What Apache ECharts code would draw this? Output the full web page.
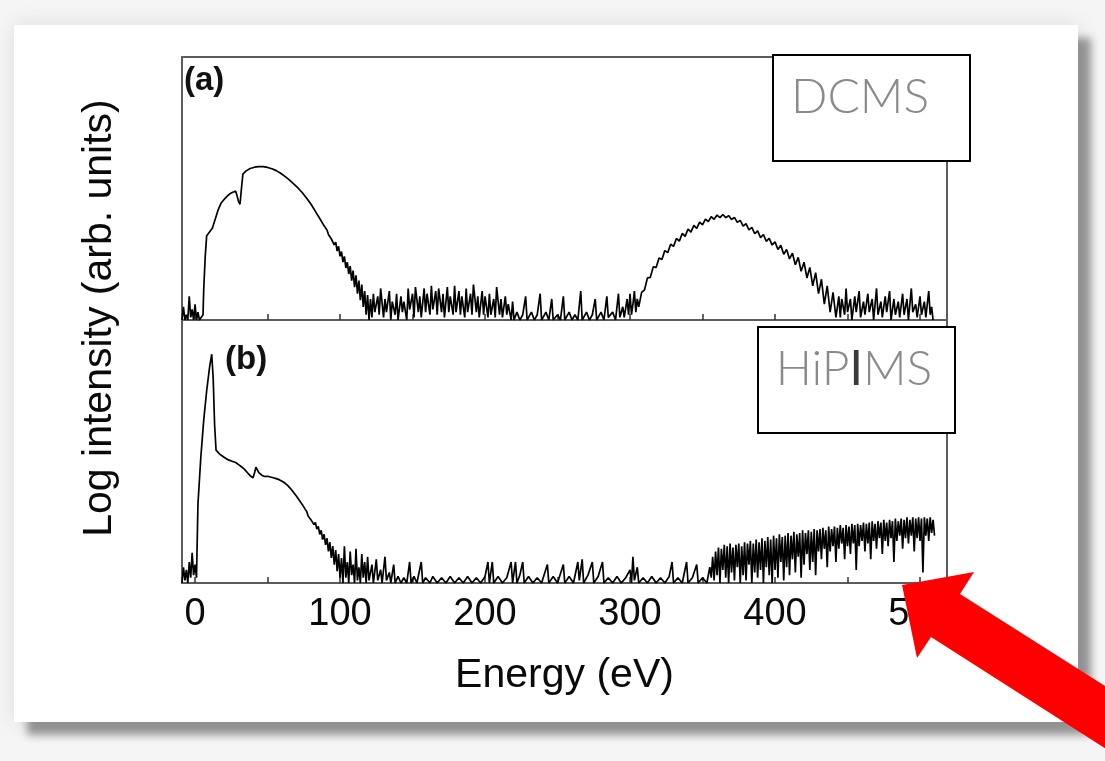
<!DOCTYPE html>
<html>
<head>
<meta charset="utf-8">
<title>Ion energy distributions: DCMS vs HiPIMS</title>
<script src="https://cdn.jsdelivr.net/npm/echarts@6.0.0/dist/echarts.min.js"></script>
<style>
  html, body { margin: 0; padding: 0; background: #f5f5f5; }
  #chart { width: 1105px; height: 761px; }
</style>
</head>
<body>
<div id="chart"></div>
<script>
// Energy axis ticks (eV)
const energyTickValues = [0, 50, 100, 150, 200, 250, 300, 350, 400, 450, 500];
const energyLabelValues = [0, 100, 200, 300, 400, 500];

// (a) DCMS spectrum: [energy (eV), log intensity (arb. units)]
const dcmsSpectrum = [
  [-9,0],[-8,0.5],[-7,0],[-6,0.2],[-5,0],[-4,0.9],[-3,0.1],[-2,0.4],[-1,0],[0,0.6],[1,0],[2,0.3],[3,0],[4,0],[5.5,0.2],
  [6,1.2],[7,2.4],[8,3.2],[10,3.35],[12,3.5],[14,3.85],[16,4.2],[18,4.45],[20,4.58],[22,4.7],[24,4.8],[26,4.86],[28,4.9],
  [29,4.72],[30,4.5],[31,4.4],[32,5.0],[33,5.55],[35,5.66],[38,5.76],[41,5.81],[44,5.83],[47,5.83],[50,5.8],[53,5.75],
  [56,5.68],[59,5.58],[62,5.46],[65,5.33],[68,5.18],[71,5.02],[74,4.84],[77,4.63],[80,4.4],[83,4.13],[86,3.86],[89,3.58],
  [91,3.42],[92,3.25],[93,3.3],[94,3.08],[95,3.12],[96,2.86],[97,2.96],[98,2.62],[99,2.8],[100,2.42],[101,2.6],[102,2.2],
  [103,2.42],[104,1.98],[105,2.2],[106,1.75],[107,2.05],[108,1.5],[109,1.88],[110,1.25],[111,1.7],[112,1.0],[113,1.5],
  [114,0.75],[115,1.35],[116,0.5],[117,1.1],[118,0.2],[119,0.95],[120,0],
  [121,0.8],[122,0.1],[123,1.0],[124,0.3],[126,0.9],[127,0.2],[128,1.2],[130,0.1],[131,0.8],[132,0.3],[134,1.1],[135,0],
  [136,0.7],[138,0.2],[139,1.0],[140,0],[142,0.9],[143,0.3],[144,0.7],[146,0],[147,1.2],[148,0.4],[150,1.0],[151,0.1],
  [152,1.25],[154,0.3],[155,0.9],[156,0.1],[158,1.2],[159,0.3],[160,1.0],[162,0.2],[163,1.3],[164,0.4],[166,1.1],[167,0.2],
  [168,1.2],[170,0.3],[171,1.0],[172,0.1],[174,1.25],[175,0.3],[176,0.9],[178,0.2],[179,1.3],[180,0.3],[182,1.1],[183,0.2],
  [184,0.9],[186,0.1],[187,1.2],[188,0.3],[190,1.0],[191,0.2],[192,1.35],[194,0.3],[195,0.9],[196,0.1],[198,1.1],[199,0.2],
  [200,0.9],[202,0.1],[203,1.0],[204,0.2],[206,0.8],[207,0.1],[208,1.25],[210,0.2],[211,0.8],[212,0.1],[214,0.9],[215,0.2],
  [216,0.6],[218,0],[219,0.7],[220,0],
  [222,0.3],[224,0],[226,0.2],[228,0.9],[229,0],[232,0.3],[234,0],[236,0.2],[238,1.0],[239,0],[242,0.3],[244,0],[246,0.8],
  [247,0],[250,0.2],[252,0],[254,0.9],[255,0],[258,0.3],[260,0],[262,0.2],[264,0],[266,1.1],[267,0],[270,0.3],[272,0],
  [274,0.2],[276,0.8],[277,0],[280,0.3],[282,0],[284,0.9],[285,0.1],[288,0.3],[290,0],[292,1.0],[293,0.1],[295,0.5],
  [296,0.1],[298,0.8],[299,0.2],[300,1.0],[301,0.2],[302,0.6],[303,1.1],[304,0.3],[305,0.8],
  [306,0.5],[308,1.05],[310,1.15],[312,1.6],[314,1.62],[316,2.02],[318,2.0],[320,2.36],[322,2.3],[324,2.64],[326,2.56],
  [328,2.88],[330,2.8],[332,3.1],[334,3.0],[336,3.29],[338,3.18],[340,3.46],[342,3.34],[344,3.6],[346,3.48],[348,3.72],
  [350,3.62],[352,3.84],[354,3.74],[356,3.93],[358,3.83],[360,3.99],[362,3.89],[364,4.01],[366,3.89],[368,3.97],[370,3.82],
  [372,3.9],[374,3.71],[376,3.79],[378,3.57],[380,3.66],[382,3.43],[384,3.52],[386,3.28],[388,3.39],[390,3.13],[392,3.25],
  [394,2.99],[396,3.11],[398,2.85],[400,2.97],[402,2.68],[404,2.84],[406,2.5],[408,2.68],[410,2.32],[412,2.54],[414,2.1],
  [416,2.38],[418,1.85],[420,2.2],[422,1.6],[424,2.0],[426,1.3],[428,1.8],[430,1.0],[432,1.55],[434,0.6],[436,1.3],
  [438,0.3],[440,1.05],[442,0.1],
  [444,0.9],[445,0.1],[446,0.8],[448,0.2],[449,1.2],[450,0.3],[452,0.8],[453,0],[455,0.9],[456,0.3],[458,1.1],[459,0.1],
  [461,0.7],[462,0.2],[464,1.0],[465,0.3],[467,0.8],[468,0],[470,1.2],[471,0.2],[473,0.7],[474,0.1],[476,0.9],[477,0.3],
  [479,1.1],[480,0],[482,0.8],[483,0.2],[485,0.7],[486,0.1],[488,1.0],[489,0.2],[491,0.8],[492,0],[494,1.2],[495,0.3],
  [497,0.6],[498,0.1],[500,0.9],[501,0.2],[503,0.7],[504,0.1],[506,1.1],[507,0.2],[508,0.5],[509,0]
];

// (b) HiPIMS spectrum: [energy (eV), log intensity (arb. units)]
const hipimsSpectrum = [
  [-9,0],[-8,0.6],[-7,0.1],[-6,0.5],[-5,0],[-4,0.8],[-3,0.2],[-2,1.15],[-1,0.3],[0,0.7],[1,0.2],
  [2,3.0],[4,4.8],[6,6.2],[8,7.3],[10,8.2],[11.5,8.7],[12.5,7.8],[13.5,6.0],[14.5,5.05],[17,4.9],[20,4.78],[23,4.68],
  [26,4.62],[28,4.58],[30,4.5],[32,4.42],[34,4.33],[36,4.2],[38,4.08],[40,4.0],[41,4.18],[42,4.4],[43,4.38],[44,4.2],
  [46,4.1],[48,4.05],[50,4.06],[52,4.03],[54,4.0],[56,3.97],[58,3.93],[60,3.87],[62,3.8],[64,3.7],[66,3.58],[68,3.44],
  [70,3.3],[72,3.14],[74,2.98],[76,2.8],[77,2.72],[78,2.55],[79,2.6],[80,2.4],[81,2.45],[82,2.22],[83,2.3],[84,2.05],
  [85,2.15],[86,1.85],[87,2.0],[88,1.65],[89,1.85],[90,1.45],[91,1.7],[92,1.2],[93,1.55],[94,0.95],[95,1.4],[96,0.7],
  [97,1.25],[98,0.45],[99,1.1],[100,0.2],[101,0.95],[102,0],[103,1.4],[104,0.2],[105,0.8],[106,0],[107,1.2],[108,0.3],
  [109,0.7],[110,0],[111,1.3],[112,0.1],[113,0.6],[114,0],[115,1.1],[116,0.2],[117,0.8],[118,0],[119,1.0],[120,0.1],
  [122,0.7],[123,0],[125,0.9],[126,0.1],[128,0.5],[129,0],[131,1.0],[132,0.1],[134,0.4],[135,0],[137,0.7],[138,0],
  [140,0.25],[142,0],[144,0.2],[146,0],[148,0.8],[149,0],[151,0.25],[153,0],[156,0.8],[157,0],[159,0.2],[162,0],
  [164,0.25],[167,0],[170,0.2],[173,0],[176,0.25],[179,0],[182,0.2],[185,0],[188,0.25],[191,0],[194,0.2],[197,0],
  [200,0.25],[202,0.8],[203,0],[205,0.8],[206,0],[209,0.25],[212,0],[215,0.2],[218,0.8],[219,0],[221,0.8],[222,0],
  [224,0.3],[226,0.8],[227,0],[230,0.25],[233,0],[236,0.2],[239,0],[243,0.7],[244,0],[247,0.25],[250,0],[254,0.7],
  [255,0],[258,0.25],[261,0],[264,0.8],[265,0.1],[267,0.9],[268,0],[271,0.3],[274,0.8],[275,0],[278,0.25],[281,0.8],
  [282,0],[285,0.2],[288,0],[291,0.25],[294,0],[297,0.2],[300,0.5],[301,0],[302,1.0],[303,0.1],[305,0.6],[306,0],
  [309,0.2],[312,0],[315,0.25],[318,0],[321,0.2],[324,0],[327,0.25],[329,0.8],[330,0],[333,0.2],[336,0],[339,0.8],
  [340,0],[343,0.2],[346,0.7],[347,0],[350,0.2],[353,0],[355,0.6],
  [356,0.2],[357,1.0],[358,0.1],[359,1.2],[360,0.3],[361,1.35],[362,0],[363,1.3],[364,0.5],[365,1.45],[366,0.2],
  [367,1.4],[368,0],[369,1.5],[370,0.4],[371,1.35],[372,0.1],[373,1.45],[374,0.6],[375,1.5],[376,0],[377,1.4],
  [378,0.3],[379,1.55],[380,0.1],[381,1.5],[382,0.7],[383,1.6],[384,0],[385,1.5],[386,0.4],[387,1.65],[388,0.2],
  [389,1.55],[390,0.5],[391,1.7],[392,0],[393,1.6],[394,0.6],[395,1.75],[396,0.3],[397,1.65],[398,0],[399,1.8],
  [400,0.5],[401,1.7],[402,0.2],[403,1.85],[404,0.8],[405,1.75],[406,0.1],[407,1.8],[408,0.6],[409,1.9],[410,0.3],
  [411,1.8],[412,0.9],[413,1.95],[414,0.4],[415,1.85],[416,1.0],[417,1.9],[418,0.2],[419,2.0],[420,0.7],[421,1.9],
  [422,1.1],[423,2.0],[424,0.5],[425,1.95],[426,0.8],[427,2.05],[428,0.3],[429,2.0],[430,1.2],[431,2.05],[432,0.9],
  [433,2.1],[434,1.3],[435,2.0],[436,0.6],[437,2.15],[438,1.2],[439,2.05],[440,1.4],[441,2.15],[442,0.8],[443,2.1],
  [444,1.3],[445,2.2],[446,1.5],[447,2.1],[448,0.9],[449,2.2],[450,1.4],[451,2.15],[452,1.1],[453,2.25],[454,1.5],
  [455,2.2],[456,0.5],[457,2.25],[458,1.4],[459,2.2],[460,1.6],[461,2.3],[462,1.2],[463,2.25],[464,1.5],[465,2.3],
  [466,0.9],[467,2.35],[468,1.6],[469,2.25],[470,1.3],[471,2.35],[472,1.7],[473,2.3],[474,1.1],[475,2.4],[476,1.6],
  [477,2.3],[478,1.4],[479,2.4],[480,1.7],[481,2.35],[482,0.8],[483,2.45],[484,1.6],[485,2.35],[486,1.8],[487,2.45],
  [488,1.3],[489,2.4],[490,1.7],[491,2.5],[492,1.5],[493,2.4],[494,1.8],[495,2.5],[496,1.2],[497,2.45],[498,1.7],
  [499,2.5],[500,1.6],[501,2.45],[502,0.4],[503,2.5],[504,1.8],[505,2.45],[506,1.6],[507,2.5],[508,1.9],[509,2.4],[510,1.8]
];

const panelTags = ['(a)', '(b)'];
const methodNames = ['DCMS', 'HiPIMS'];

const FONT = '"Liberation Sans", Arial, Helvetica, sans-serif';
const LIGHT_FONT = '300 48px Lato, "Open Sans", sans-serif';
const chart = echarts.init(document.getElementById('chart'), null, { renderer: 'canvas' });

function energyAxis(gridIndex, withLabels) {
  return {
    type: 'value', gridIndex: gridIndex, min: -9, max: 518.6,
    axisLine: { show: false },
    splitLine: { show: false },
    axisTick: {
      show: true, inside: true, length: 6, customValues: energyTickValues,
      lineStyle: { color: '#333', width: 1.5 }
    },
    axisLabel: withLabels ? {
      show: true, customValues: energyLabelValues, margin: 13,
      fontFamily: FONT, fontSize: 38, color: '#0a0a0a'
    } : { show: false },
    name: withLabels ? 'Energy (eV)' : '',
    nameLocation: 'middle', nameGap: 72,
    nameTextStyle: { fontFamily: FONT, fontSize: 41, color: '#0a0a0a' }
  };
}

function intensityAxis(gridIndex) {
  return { type: 'value', gridIndex: gridIndex, min: 0, max: 10, show: false };
}

const gridFrame = { show: true, borderColor: '#5c5c5c', borderWidth: 2, backgroundColor: 'transparent' };

const spectrumLine = { color: '#000', width: 1.7 };

const option = {
  backgroundColor: '#f5f5f5',
  animation: false,
  grid: [
    Object.assign({ left: 182, top: 57, width: 765, height: 263 }, gridFrame),
    Object.assign({ left: 182, top: 320, width: 765, height: 263 }, gridFrame)
  ],
  xAxis: [energyAxis(0, false), energyAxis(1, true)],
  yAxis: [intensityAxis(0), intensityAxis(1)],
  series: [
    {
      name: methodNames[0], type: 'line', xAxisIndex: 0, yAxisIndex: 0,
      data: dcmsSpectrum, showSymbol: false, symbol: 'none',
      lineStyle: spectrumLine, z: 5
    },
    {
      name: methodNames[1], type: 'line', xAxisIndex: 1, yAxisIndex: 1,
      data: hipimsSpectrum, showSymbol: false, symbol: 'none',
      lineStyle: spectrumLine, z: 5
    }
  ],
  graphic: [
    // card with soft drop shadow
    {
      type: 'rect', z: -20, silent: true,
      shape: { x: 14, y: 25, width: 1064, height: 697 },
      style: { fill: '#fff', shadowBlur: 22, shadowOffsetX: 0, shadowOffsetY: 0, shadowColor: 'rgba(0,0,0,0.10)' }
    },
    {
      type: 'rect', z: -19, silent: true,
      shape: { x: 14, y: 25, width: 1064, height: 697 },
      style: { fill: '#fff', shadowBlur: 8, shadowOffsetX: 13, shadowOffsetY: 13, shadowColor: 'rgba(0,0,0,0.38)' }
    },
    // y-axis title spanning both panels
    {
      type: 'text', x: 100, y: 318, rotation: Math.PI / 2, z: 10, silent: true,
      style: {
        text: 'Log intensity (arb. units)', fill: '#0a0a0a',
        font: '41px ' + FONT, align: 'center', verticalAlign: 'middle'
      }
    },
    // panel tags
    {
      type: 'text', x: 184, y: 64, z: 10, silent: true,
      style: { text: panelTags[0], fill: '#111', font: 'bold 33px ' + FONT, align: 'left', verticalAlign: 'top' }
    },
    {
      type: 'text', x: 225, y: 343, z: 10, silent: true,
      style: { text: panelTags[1], fill: '#111', font: 'bold 33px ' + FONT, align: 'left', verticalAlign: 'top' }
    },
    // method boxes
    {
      type: 'rect', z: 50, silent: true,
      shape: { x: 773, y: 55, width: 197, height: 106 },
      style: { fill: '#fff', stroke: '#000', lineWidth: 2 }
    },
    {
      type: 'text', x: 860, y: 98, z: 51, silent: true,
      style: { text: methodNames[0], fill: '#8a8a8a', font: LIGHT_FONT, align: 'center', verticalAlign: 'middle' }
    },
    {
      type: 'rect', z: 50, silent: true,
      shape: { x: 758, y: 327, width: 197, height: 106 },
      style: { fill: '#fff', stroke: '#000', lineWidth: 2 }
    },
    {
      type: 'text', x: 854, y: 370, z: 51, silent: true,
      style: {
        text: 'HiP{dark|I}MS', fill: '#8a8a8a', font: LIGHT_FONT, align: 'center', verticalAlign: 'middle',
        rich: { dark: { fill: '#3a3a3a', font: '400 48px Lato, "Open Sans", sans-serif' } }
      }
    },
    // red pointer arrow
    {
      type: 'polygon', z: 60, silent: true,
      shape: { points: [[902, 585], [974, 572], [960, 594], [1135, 705], [1106, 749], [931, 637], [917, 658]] },
      style: { fill: '#ff0000' }
    }
  ]
};

chart.setOption(option);
</script>
</body>
</html>
